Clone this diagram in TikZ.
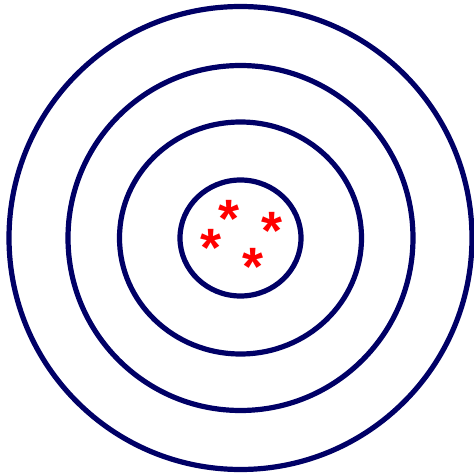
\documentclass[tikz,border=0pt]{standalone}
\usepackage{fontspec}
\setmainfont{Liberation Sans}
\usepackage{xcolor}
\definecolor{ringblue}{HTML}{000066}
\definecolor{hitred}{HTML}{FF0000}

\begin{document}
\begin{tikzpicture}[x=1pt,y=1pt,
  ring/.style={draw=ringblue,line width=5.2pt},
  hit/.style={text=hitred,font=\fontsize{54}{54}\selectfont\bfseries,inner sep=0pt,anchor=center,yshift=-11pt}]
\useasboundingbox (0,0) rectangle (474,475);
\coordinate (c) at (240.5,237);
% target rings, outside in
\draw[ring] (c) circle[radius=231.5];
\draw[ring] (c) circle[radius=172.5];
\draw[ring] (c) ellipse[x radius=121,y radius=116];
\draw[ring] (c) ellipse[x radius=60.5,y radius=58];
% hits
\node[hit] (h1) at (228.7,267) {*};
\node[hit] (h2) at (271.7,255) {*};
\node[hit] (h3) at (210.7,238.3) {*};
\node[hit] (h4) at (253.3,219) {*};
\end{tikzpicture}
\end{document}
